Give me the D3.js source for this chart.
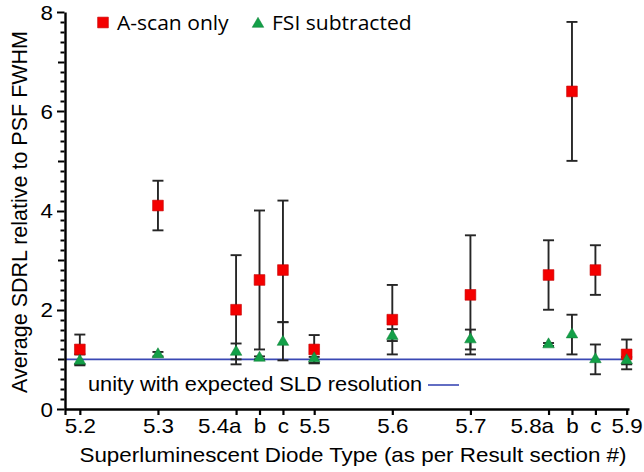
<!DOCTYPE html>
<html>
<head>
<meta charset="utf-8">
<script src="https://cdn.jsdelivr.net/npm/d3@7"></script>
<style>
  html, body { margin: 0; padding: 0; background: #fff; }
  svg { display: block; }
</style>
</head>
<body>
<svg id="chart" width="644" height="472"></svg>
<script>
// ---- data ----
const tickLabels = ["5.2","5.3","5.4a","b","c","5.5","5.6","5.7","5.8a","b","c","5.9"];
const sections   = [5.2, 5.3, 5.4, 5.43, 5.46, 5.5, 5.6, 5.7, 5.8, 5.83, 5.86, 5.9];
const ascanMean  = [1.2, 4.1, 2.0, 2.6, 2.8, 1.2, 1.8, 2.3, 2.7, 6.4, 2.8, 1.1];
const ascanLow   = [0.9, 3.6, 0.9, 1.2, 1.75, 0.93, 1.1, 1.1, 2.0, 5.0, 2.3, 0.8];
const ascanHigh  = [1.5, 4.6, 3.1, 4.0, 4.2, 1.49, 2.5, 3.5, 3.4, 7.8, 3.3, 1.4];
const fsiMean    = [0.97, 1.1, 1.15, 1.03, 1.35, 1.02, 1.47, 1.4, 1.3, 1.5, 1.0, 0.98];
const fsiLow     = [0.88, 1.06, 1.0, 1.0, 0.98, 0.92, 1.37, 1.2, 1.27, 1.1, 0.7, 0.9];
const fsiHigh    = [1.1, 1.15, 1.32, 1.06, 1.75, 1.05, 1.61, 1.6, 1.33, 1.9, 1.3, 1.05];
const unityValue = 1;
const yMajorTicks = [0, 2, 4, 6, 8];
const yMidTicks = [1, 3, 5, 7];
const seriesNames = ["A-scan only", "FSI subtracted"];
const xTitle = "Superluminescent Diode Type (as per Result section #)";
const yTitle = "Average SDRL relative to PSF FWHM";
const unityLabel = "unity with expected SLD resolution";

// ---- layout ----
const svg = d3.select("#chart");
const pL = 65, pR = 629, pT = 12, pB = 409;
const x = d3.scaleLinear().domain([5.181, 5.903]).range([pL, pR]);
const y = d3.scaleLinear().domain([0, 8]).range([pB, pT]);

const red = "#f40000", redEdge = "#c40000";
const green = "#13a048";
const blue = "#3a48b4";
const barColor = "#262626";
const arialFont = "'Liberation Sans', Arial, sans-serif";
const legendFont = "'Open Sans', sans-serif";
const sx = 1.12; // horizontal stretch of text in the reference

svg.append("rect").attr("width", 644).attr("height", 472).attr("fill", "#fff");

// unity line
svg.append("line")
  .attr("x1", pL).attr("x2", pR)
  .attr("y1", y(unityValue)).attr("y2", y(unityValue))
  .attr("stroke", blue).attr("stroke-width", 1.6);

// ---- y axis ----
const minorVals = d3.range(0, 8.001, 0.2).map(v => +v.toFixed(1))
  .filter(v => Math.abs(v - Math.round(v)) > 1e-6);
const yTickData = minorVals.map(v => ({ v, len: 4.5 }))
  .concat(yMidTicks.map(v => ({ v, len: 7 })))
  .concat(yMajorTicks.map(v => ({ v, len: 8 })));
const yTicksG = svg.append("g").attr("class", "yticks");
yTicksG.selectAll("line").data(yTickData).join("line")
  .attr("x1", pL - 0.5).attr("x2", d => pL - d.len)
  .attr("y1", d => Math.round(y(d.v)) + 0.5).attr("y2", d => Math.round(y(d.v)) + 0.5)
  .style("stroke", "#000").style("stroke-width", "2px");

const yAxis = svg.append("g")
  .attr("transform", `translate(${pL},0)`)
  .call(d3.axisLeft(y).tickValues(yMajorTicks).tickSize(0).tickPadding(0).tickSizeOuter(0).tickFormat(d3.format("d")));
yAxis.select(".domain").attr("stroke", "#000").attr("stroke-width", 2.4);
yAxis.selectAll("text")
  .attr("font-family", arialFont).attr("font-size", 20).attr("fill", "#000")
  .attr("x", -12 / sx).attr("dy", "0.36em")
  .attr("transform", `scale(${sx},1)`);

// ---- x axis ----
const xAxis = svg.append("g")
  .attr("transform", `translate(0,${pB})`)
  .call(d3.axisBottom(x).tickValues([x.invert(pL)].concat(sections)).tickSize(6).tickSizeOuter(0)
        .tickFormat((d, i) => i === 0 ? "" : tickLabels[i - 1]));
xAxis.select(".domain").attr("stroke", "#000").attr("stroke-width", 2.4);
xAxis.selectAll(".tick line").attr("stroke", "#000").attr("stroke-width", 2.2);
xAxis.selectAll("text")
  .attr("font-family", arialFont).attr("font-size", 20).attr("fill", "#000")
  .attr("y", 24).attr("dy", 0)
  .each(function() {
    const t = d3.select(this);
    if (/a$/.test(t.text())) { t.attr("text-anchor", "end").attr("x", 5 / sx); }
  })
  .attr("transform", `scale(${sx},1)`);

svg.append("text")
  .attr("x", 353 / sx).attr("y", 462)
  .attr("transform", `scale(${sx},1)`)
  .attr("text-anchor", "middle")
  .attr("font-family", arialFont).attr("font-size", 20).attr("fill", "#000")
  .text(xTitle);
svg.append("text")
  .attr("transform", `translate(27,212) rotate(-90)`)
  .attr("text-anchor", "middle")
  .attr("font-family", arialFont).attr("font-size", 21.5).attr("fill", "#000")
  .text(yTitle);

const ux = 1.09;
svg.append("text")
  .attr("x", 88 / ux).attr("y", 391)
  .attr("transform", `scale(${ux},1)`)
  .attr("font-family", arialFont).attr("font-size", 20).attr("fill", "#000")
  .text(unityLabel);
svg.append("line")
  .attr("x1", 428).attr("x2", 459).attr("y1", 385).attr("y2", 385)
  .attr("stroke", blue).attr("stroke-width", 1.6);

// ---- error bars ----
function errorBars(lows, highs) {
  const g = svg.append("g").attr("stroke", barColor).attr("stroke-width", 1.9).attr("fill", "none");
  sections.forEach((s, i) => {
    const cx = x(s), cw = 5.5;
    g.append("line").attr("x1", cx).attr("x2", cx).attr("y1", y(lows[i])).attr("y2", y(highs[i]));
    g.append("line").attr("x1", cx - cw).attr("x2", cx + cw).attr("y1", y(lows[i])).attr("y2", y(lows[i]));
    g.append("line").attr("x1", cx - cw).attr("x2", cx + cw).attr("y1", y(highs[i])).attr("y2", y(highs[i]));
  });
}
errorBars(ascanLow, ascanHigh);
errorBars(fsiLow, fsiHigh);

// ---- markers ----
const sq = d3.symbol().type(d3.symbolSquare).size(115);
const tri = d3.symbol().type(d3.symbolTriangle).size(58);
svg.append("g").selectAll("path").data(ascanMean).join("path")
  .attr("d", sq)
  .attr("transform", (d, i) => `translate(${x(sections[i])},${y(d)})`)
  .attr("fill", red).attr("stroke", redEdge).attr("stroke-width", 0.6);
svg.append("g").selectAll("path").data(fsiMean).join("path")
  .attr("d", tri)
  .attr("transform", (d, i) => `translate(${x(sections[i])},${y(d)})`)
  .attr("fill", green).attr("stroke", "#0c7f34").attr("stroke-width", 0.5);

// ---- legend ----
const lg = svg.append("g");
lg.append("path").attr("d", sq).attr("transform", "translate(103,22.5)")
  .attr("fill", red).attr("stroke", redEdge).attr("stroke-width", 0.6);
lg.append("text").attr("x", 117 / 1.08).attr("y", 30).attr("transform", "scale(1.08,1)")
  .attr("font-family", legendFont).attr("font-size", 19.5).attr("fill", "#000")
  .text(seriesNames[0]);
lg.append("path").attr("d", tri).attr("transform", "translate(258,24)")
  .attr("fill", green).attr("stroke", "#0c7f34").attr("stroke-width", 0.5);
lg.append("text").attr("x", 272 / 1.08).attr("y", 30).attr("transform", "scale(1.08,1)")
  .attr("font-family", legendFont).attr("font-size", 19.5).attr("fill", "#000")
  .text(seriesNames[1]);
</script>
</body>
</html>
